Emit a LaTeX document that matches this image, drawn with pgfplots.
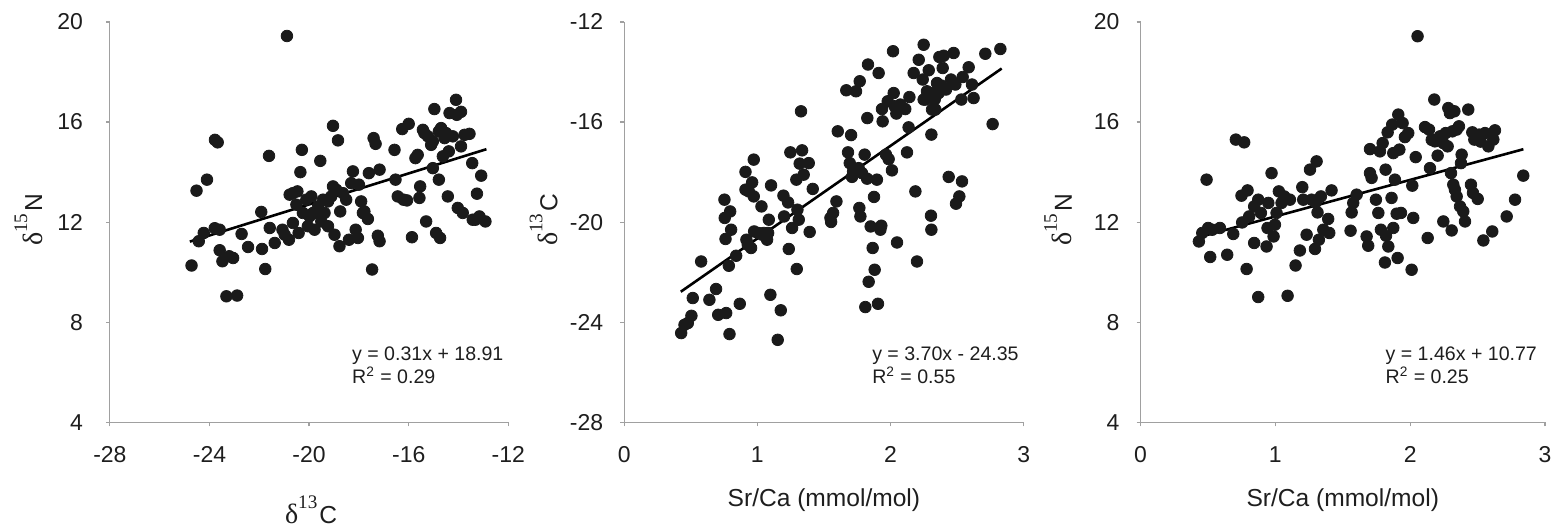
\documentclass[border=0pt]{standalone}
\usepackage{fontspec}
\setmainfont{Liberation Sans}
\newfontfamily\seriffont{Liberation Serif}
\usepackage{pgfplots}
\pgfplotsset{compat=1.18}
\definecolor{axgray}{HTML}{A0A0A0}
\definecolor{dot}{HTML}{1A1A1A}
\definecolor{txt}{HTML}{1E1E1E}
\newcommand{\dl}[2]{{\seriffont\fontsize{14}{16}\selectfont δ}\raisebox{7.5pt}{\seriffont\fontsize{9.6}{10}\selectfont #1}\hspace{1pt}#2}
\tikzset{eq/.style={anchor=north west, align=left, inner sep=0pt, text=txt, font=\fontsize{9.8}{11.5}\selectfont}}
\pgfplotsset{
  panel/.style={
    scale only axis, height=200.5pt,
    axis x line*=bottom, axis y line*=left,
    axis line style={-, draw=axgray, line width=0.6pt},
    tick align=outside, major tick length=2pt,
    tick style={draw=axgray, line width=0.6pt},
    tick label style={font=\fontsize{11.5}{13}\selectfont, text=txt},
    xticklabel style={yshift=-6.5pt},
    label style={font=\fontsize{12.3}{14}\selectfont, text=txt},
    xlabel style={at={(axis description cs:0.5,-0.2095)}, anchor=base},
    ylabel style={at={(axis description cs:-0.170,0.506)}, anchor=base},
    clip=false,
  },
  dots/.style={only marks, mark=*, mark size=2.9pt, color=dot},
  trend/.style={black, line width=1.3pt},
}
\begin{document}
\begin{tikzpicture}
\path (0,0) rectangle (779pt,265pt);
% Panel 1
\begin{axis}[panel, at={(55pt,53.5pt)}, anchor=south west, width=199.5pt,
  xmin=-28, xmax=-12, ymin=4, ymax=20,
  xtick={-28,-24,-20,-16,-12}, xticklabels={-28,-24,-20,-16,-12},
  ytick={4,8,12,16,20}, yticklabels={4,8,12,16,20},
  yticklabel style={xshift=-8pt},
  xlabel={\dl{13}{C}}, ylabel={\dl{15}{N}},
  xlabel style={at={(axis description cs:0.505,-0.252)}}]
\addplot[dots] table {
x y
-20.89 19.44
-24.72 10.27
-24.52 13.26
-24.43 11.24
-24.23 11.57
-24.10 13.70
-23.78 15.29
-23.67 15.19
-23.79 11.76
-23.59 10.88
-23.48 10.44
-23.32 9.04
-22.89 9.07
-23.21 10.64
-23.05 10.57
-22.71 11.53
-22.45 11.01
-21.92 12.41
-21.89 10.93
-21.76 10.13
-21.61 14.65
-21.58 11.77
-21.38 11.17
-21.07 11.70
-20.98 11.50
-20.81 11.30
-20.78 13.10
-20.65 11.97
-20.47 13.23
-20.42 11.57
-20.35 14.00
-20.29 14.89
-20.51 12.70
-20.25 12.37
-20.11 12.90
-20.05 11.84
-19.91 13.03
-19.84 12.37
-19.78 11.70
-19.64 12.63
-19.55 14.45
-19.51 12.03
-19.44 12.90
-19.38 12.37
-19.24 12.83
-19.11 13.03
-19.04 15.85
-18.98 11.50
-18.91 13.30
-18.84 15.27
-18.78 11.04
-18.75 12.43
-18.64 13.16
-18.51 12.90
-18.40 11.30
-18.31 13.56
-18.24 14.03
-18.13 11.70
-18.04 11.37
-18.00 13.50
-17.91 12.83
-17.78 12.43
-17.64 12.13
-17.60 13.96
-17.47 10.11
-17.41 15.36
-17.33 15.13
-17.24 11.46
-17.17 11.24
-17.17 14.10
-16.57 14.89
-16.53 13.70
-16.44 13.03
-16.26 15.72
-16.07 12.87
-16.00 15.93
-15.87 11.40
-15.73 14.56
-15.57 12.97
-15.54 13.43
-15.43 15.69
-15.30 12.03
-15.23 15.43
-15.10 15.09
-15.03 14.16
-14.97 16.52
-14.90 11.57
-14.79 13.70
-14.74 11.37
-14.70 15.76
-14.63 14.63
-14.56 15.36
-14.43 13.03
-14.39 14.83
-14.36 16.36
-14.23 15.43
-14.10 16.89
-14.07 16.29
-14.03 12.57
-13.90 16.41
-13.90 15.03
-13.83 12.37
-13.76 15.49
-13.56 15.53
-13.45 14.36
-13.26 13.14
-13.43 12.10
-13.16 12.23
-13.09 13.86
-12.92 12.03
-15.37 15.56
-14.79 15.63
-14.50 15.56
-15.03 15.23
-19.71 12.37
-19.24 11.84
-19.98 12.23
-19.04 13.43
-20.65 13.16
-17.84 12.37
-16.21 12.90
-15.64 14.69
-13.32 12.10
-23.59 11.70
};
\addplot[trend] coordinates {(-24.79,11.225) (-12.88,14.917)};
\node[eq] at (rel axis cs:0.607,0.19) {y = 0.31x + 18.91\\R\textsuperscript{2} = 0.29};
\end{axis}
% Panel 2
\begin{axis}[panel, at={(312.5pt,53.5pt)}, anchor=south west, width=200pt,
  xmin=0, xmax=3, ymin=-28, ymax=-12,
  xtick={0,1,2,3}, xticklabels={0,1,2,3},
  ytick={-28,-24,-20,-16,-12}, yticklabels={-28,-24,-20,-16,-12},
  yticklabel style={xshift=-5pt},
  xlabel={Sr/Ca (mmol/mol)}, ylabel={\dl{13}{C}},
  ylabel style={at={(axis description cs:-0.1675,0.506)}}]
\addplot[dots] table {
x y
0.428 -24.43
0.453 -24.10
0.478 -24.03
0.505 -23.74
0.515 -23.03
0.578 -21.57
0.640 -23.10
0.690 -22.67
0.706 -23.70
0.766 -23.63
0.753 -19.10
0.755 -19.83
0.761 -20.67
0.791 -24.47
0.786 -21.74
0.796 -19.57
0.803 -20.30
0.841 -21.34
0.868 -23.26
0.911 -17.99
0.911 -18.70
0.918 -20.70
0.936 -18.77
0.953 -21.03
0.961 -18.41
0.973 -17.50
0.973 -18.97
0.976 -20.37
1.006 -20.43
1.031 -19.37
1.048 -20.43
1.073 -20.70
1.081 -20.43
1.086 -19.90
1.103 -18.53
1.098 -22.90
1.176 -23.52
1.153 -24.70
1.196 -18.94
1.201 -19.77
1.231 -19.21
1.236 -21.07
1.248 -17.21
1.261 -20.23
1.293 -18.30
1.296 -21.87
1.301 -19.50
1.311 -19.90
1.318 -17.66
1.328 -15.57
1.336 -17.13
1.348 -18.10
1.386 -17.64
1.393 -20.39
1.416 -18.67
1.554 -19.99
1.569 -19.63
1.594 -19.17
1.604 -16.37
1.668 -14.73
1.681 -17.21
1.694 -17.64
1.704 -16.52
1.711 -18.19
1.719 -17.97
1.741 -14.77
1.761 -17.84
1.766 -19.43
1.769 -14.37
1.774 -19.77
1.786 -18.04
1.806 -17.30
1.811 -23.39
1.824 -18.26
1.826 -15.84
1.831 -13.70
1.836 -22.38
1.851 -20.17
1.866 -21.03
1.876 -18.99
1.881 -21.90
1.898 -18.30
1.906 -23.26
1.911 -14.04
1.924 -20.30
1.931 -20.14
1.936 -15.48
1.941 -15.97
1.966 -17.30
1.979 -15.17
1.986 -17.48
2.011 -17.93
2.019 -13.17
2.024 -14.84
2.031 -15.37
2.044 -15.66
2.049 -20.81
2.074 -15.30
2.111 -15.48
2.124 -17.21
2.136 -16.21
2.142 -15.00
2.174 -14.04
2.187 -18.77
2.199 -21.57
2.212 -13.51
2.249 -12.91
2.242 -14.30
2.262 -15.10
2.274 -14.77
2.287 -13.93
2.304 -19.74
2.307 -20.30
2.307 -16.50
2.312 -15.50
2.332 -15.10
2.349 -14.44
2.367 -13.40
2.382 -14.54
2.392 -13.84
2.399 -13.35
2.417 -14.70
2.437 -18.19
2.454 -14.30
2.474 -13.24
2.487 -14.50
2.492 -19.26
2.517 -18.97
2.532 -15.10
2.537 -18.37
2.542 -14.20
2.587 -13.81
2.612 -14.50
2.624 -15.04
2.712 -13.27
2.767 -16.08
2.825 -13.08
2.312 -14.84
2.362 -14.84
2.249 -15.10
1.549 -19.83
1.036 -20.50
0.928 -20.90
2.337 -15.50
};
\addplot[trend] coordinates {(0.425,-22.778) (2.835,-13.860)};
\node[eq] at (rel axis cs:0.62,0.19) {y = 3.70x - 24.35\\R\textsuperscript{2} = 0.55};
\end{axis}
% Panel 3
\begin{axis}[panel, at={(571pt,53.5pt)}, anchor=south west, width=202.5pt,
  xmin=0, xmax=3, ymin=4, ymax=20,
  xtick={0,1,2,3}, xticklabels={0,1,2,3},
  ytick={4,8,12,16,20}, yticklabels={4,8,12,16,20},
  yticklabel style={xshift=-5pt},
  xlabel={Sr/Ca (mmol/mol)}, ylabel={\dl{15}{N}}]
\addplot[dots] table {
x y
0.433 11.23
0.458 11.57
0.490 13.70
0.502 11.77
0.517 10.61
0.532 11.70
0.589 11.77
0.643 10.70
0.688 11.53
0.707 15.30
0.749 13.06
0.769 15.19
0.754 11.99
0.787 10.13
0.794 13.27
0.806 12.23
0.843 11.17
0.873 9.01
0.843 12.63
0.873 12.90
0.893 12.37
0.935 11.03
0.942 11.77
0.948 12.77
0.972 13.96
0.987 11.43
0.997 11.90
1.009 12.37
1.026 13.23
1.046 12.77
1.066 13.03
1.091 9.06
1.108 12.90
1.150 10.27
1.182 10.87
1.200 13.40
1.207 12.90
1.232 11.50
1.257 14.10
1.269 12.90
1.294 10.93
1.299 12.79
1.306 14.43
1.313 12.39
1.323 11.30
1.338 13.03
1.356 11.70
1.392 12.13
1.400 11.57
1.417 13.27
1.558 11.66
1.566 12.39
1.578 12.77
1.603 13.10
1.677 11.43
1.689 11.06
1.702 14.92
1.702 13.96
1.714 13.77
1.746 12.90
1.764 12.37
1.776 14.83
1.783 11.70
1.796 15.16
1.813 10.39
1.818 14.10
1.821 11.46
1.833 15.59
1.838 11.03
1.862 12.97
1.867 15.90
1.875 14.76
1.875 11.77
1.887 13.70
1.900 12.34
1.907 10.57
1.912 16.30
1.920 14.90
1.932 12.37
1.944 15.96
1.961 15.40
1.986 15.56
2.011 10.10
2.016 13.46
2.023 12.17
2.041 14.60
2.055 19.43
2.110 15.80
2.130 11.37
2.140 15.70
2.147 14.16
2.179 16.90
2.184 15.23
2.204 14.66
2.221 15.43
2.246 12.03
2.263 15.56
2.278 15.03
2.283 16.56
2.295 16.36
2.303 13.96
2.308 11.67
2.313 15.63
2.320 13.50
2.328 16.43
2.332 13.30
2.345 13.03
2.362 15.83
2.370 12.63
2.377 14.36
2.382 14.70
2.394 12.43
2.407 12.03
2.431 16.50
2.451 13.50
2.461 15.59
2.466 13.17
2.476 15.30
2.501 12.93
2.511 15.50
2.543 11.27
2.555 15.56
2.580 15.03
2.609 11.63
2.617 15.30
2.629 15.67
2.716 12.23
2.778 12.90
2.839 13.86
2.523 15.22
2.160 15.29
2.345 15.70
2.246 15.16
};
\addplot[trend] coordinates {(0.43,11.398) (2.84,14.916)};
\node[eq] at (rel axis cs:0.605,0.19) {y = 1.46x + 10.77\\R\textsuperscript{2} = 0.25};
\end{axis}
\end{tikzpicture}
\end{document}
